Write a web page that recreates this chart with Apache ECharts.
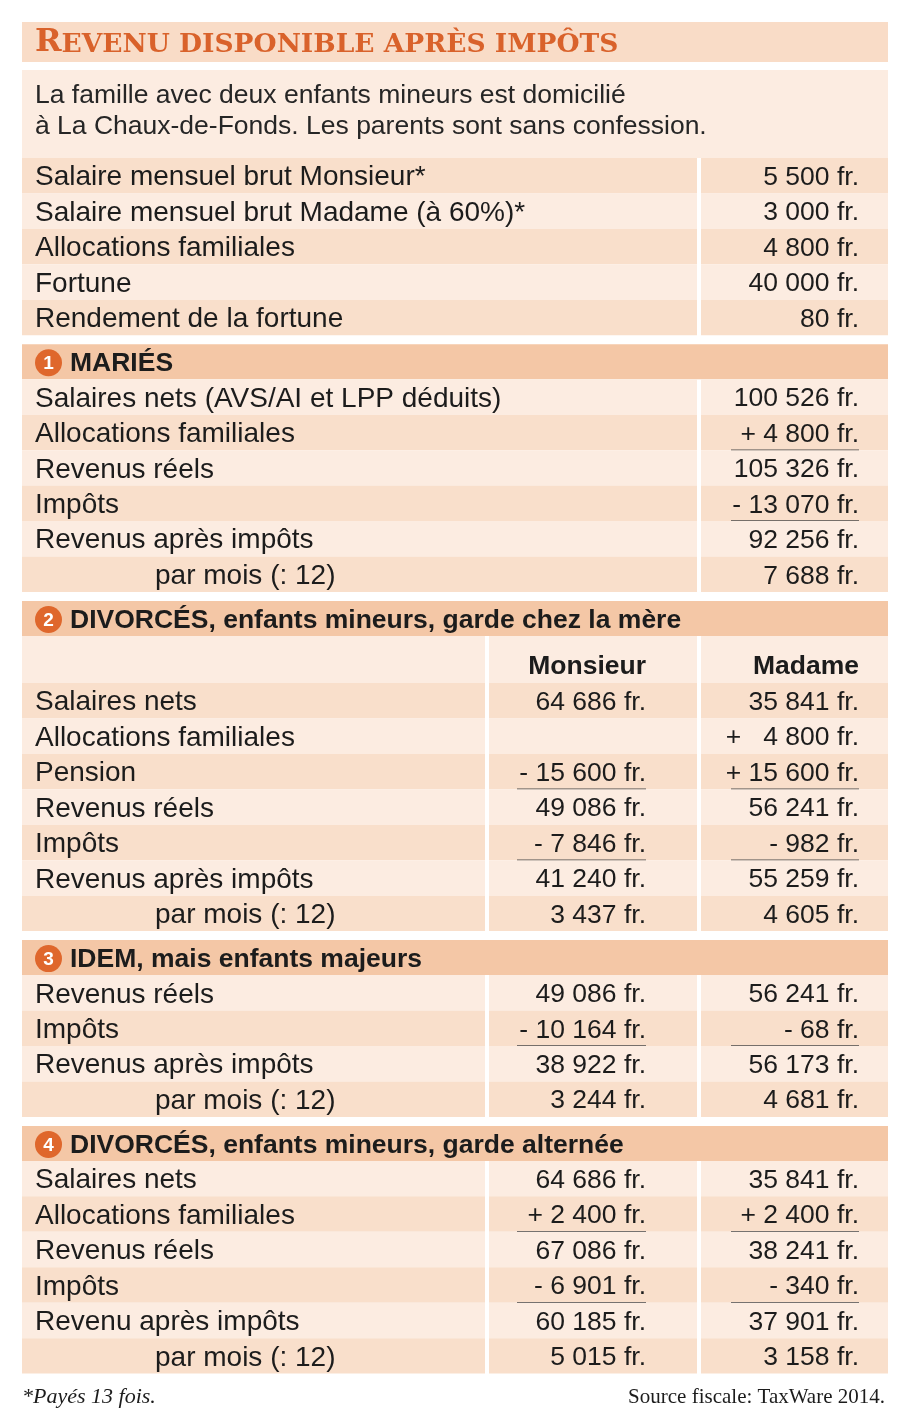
<!doctype html>
<html lang='fr'>
<head>
<meta charset='utf-8'>
<title>Revenu disponible après impôts</title>
<style>
html, body { margin: 0; padding: 0; background: #fff; }
#chart { width: 900px; height: 1427px; }
</style>
</head>
<body>
<div id="chart"></div>
<script src="https://cdn.jsdelivr.net/npm/echarts@6/dist/echarts.min.js"></script>
<script>
const titleText = 'Revenu disponible après impôts';
const intro = [
    'La famille avec deux enfants mineurs est domicilié',
    'à La Chaux-de-Fonds. Les parents sont sans confession.'
];
const baseLabels = ['Salaire mensuel brut Monsieur*', 'Salaire mensuel brut Madame (à 60%)*', 'Allocations familiales', 'Fortune', 'Rendement de la fortune'];
const baseValues = ['5 500 fr.', '3 000 fr.', '4 800 fr.', '40 000 fr.', '80 fr.'];

const sectionTitles = [
    'MARIÉS',
    'DIVORCÉS, enfants mineurs, garde chez la mère',
    'IDEM, mais enfants majeurs',
    'DIVORCÉS, enfants mineurs, garde alternée'
];
const colHeads = ['Monsieur', 'Madame'];

const mariesLabels = ['Salaires nets (AVS/AI et LPP déduits)', 'Allocations familiales', 'Revenus réels', 'Impôts', 'Revenus après impôts', 'par mois (: 12)'];
const mariesValues = ['100 526 fr.', '+ 4 800 fr.', '105 326 fr.', '- 13 070 fr.', '92 256 fr.', '7 688 fr.'];
const mariesRules = [1, 3];

const gardeLabels = ['Salaires nets', 'Allocations familiales', 'Pension', 'Revenus réels', 'Impôts', 'Revenus après impôts', 'par mois (: 12)'];
const gardeMonsieur = ['64 686 fr.', '', '- 15 600 fr.', '49 086 fr.', '- 7 846 fr.', '41 240 fr.', '3 437 fr.'];
const gardeMadame = ['35 841 fr.', '+ \u20074 800 fr.', '+ 15 600 fr.', '56 241 fr.', '- 982 fr.', '55 259 fr.', '4 605 fr.'];
const gardeRules = [2, 4];

const majeursLabels = ['Revenus réels', 'Impôts', 'Revenus après impôts', 'par mois (: 12)'];
const majeursMonsieur = ['49 086 fr.', '- 10 164 fr.', '38 922 fr.', '3 244 fr.'];
const majeursMadame = ['56 241 fr.', '- 68 fr.', '56 173 fr.', '4 681 fr.'];
const majeursRules = [1];

const alterneeLabels = ['Salaires nets', 'Allocations familiales', 'Revenus réels', 'Impôts', 'Revenu après impôts', 'par mois (: 12)'];
const alterneeMonsieur = ['64 686 fr.', '+ 2 400 fr.', '67 086 fr.', '- 6 901 fr.', '60 185 fr.', '5 015 fr.'];
const alterneeMadame = ['35 841 fr.', '+ 2 400 fr.', '38 241 fr.', '- 340 fr.', '37 901 fr.', '3 158 fr.'];
const alterneeRules = [1, 3];

const footNote = '*Payés 13 fois.';
const sourceNote = 'Source fiscale: TaxWare 2014.';

// --- mise en page ---
const SANS = '"Liberation Sans", Arial, sans-serif';
const SERIF = '"Liberation Serif", "DejaVu Serif", serif';
const TITLE_FONT = '"DejaVu Serif", serif';
const C = {
    orange: '#d9622b',
    circle: '#df672c',
    titleBand: '#f9dcc7',
    light: '#fcece1',
    dark: '#f9dfcb',
    head: '#f4c7a6',
    ink: '#1c1c1c',
    rule: '#4a4a4a'
};
const ROW_H = 35.45, HEAD_H = 35, GAP = 9, COLHEAD_H = 47;
const LABEL_SIZE = 28, VALUE_SIZE = 26.5, HEAD_SIZE = 26.5;

let rows = [];
let y = 22;
rows.push({ kind: 'title', y0: y, y1: y + 40 }); y += 48;
rows.push({ kind: 'intro', y0: y, y1: y + 88 }); y += 88;

function addRows(labels, cols, rules, split) {
    const n = labels.length;
    labels.forEach((lab, i) => {
        rows.push({
            kind: 'row', split: split, label: lab,
            cols: cols.map(c => c[i]),
            dark: (n - 1 - i) % 2 === 0,
            rule: rules.indexOf(i) >= 0,
            indent: lab.indexOf('par mois') === 0,
            y0: y, y1: y + ROW_H
        });
        y += ROW_H;
    });
}
function addHead(num) {
    y += GAP;
    rows.push({ kind: 'head', num: num + 1, text: sectionTitles[num], y0: y, y1: y + HEAD_H });
    y += HEAD_H;
}

addRows(baseLabels, [baseValues], [], false);
addHead(0);
addRows(mariesLabels, [mariesValues], mariesRules, false);
addHead(1);
rows.push({ kind: 'colhead', y0: y, y1: y + COLHEAD_H }); y += COLHEAD_H;
addRows(gardeLabels, [gardeMonsieur, gardeMadame], gardeRules, true);
addHead(2);
addRows(majeursLabels, [majeursMonsieur, majeursMadame], majeursRules, true);
addHead(3);
addRows(alterneeLabels, [alterneeMonsieur, alterneeMadame], alterneeRules, true);
rows.push({ kind: 'foot', y0: y + 8, y1: y + 36 });

const X = { left: 22, right: 888, s1a: 485, s1b: 489, s2a: 697, s2b: 701 };
// colonnes de valeurs : [bord gauche soulignement, bord droit texte]
const valCols = { mon: [517, 646], mad: [731, 859] };

function renderItem(params, api) {
    const r = rows[params.dataIndex];
    const P = (px, py) => api.coord([px, py]);
    const kids = [];
    const rect = (x0, x1, fill) => {
        const a = P(x0, r.y0), b = P(x1, r.y1);
        kids.push({ type: 'rect', shape: { x: a[0], y: a[1], width: b[0] - a[0], height: b[1] - a[1] }, style: { fill: fill } });
    };
    const text = (px, py, str, opt) => {
        const p = P(px, py);
        kids.push({ type: 'text', x: p[0], y: p[1], style: Object.assign({
            text: str, fill: C.ink, fontFamily: SANS, fontSize: LABEL_SIZE,
            align: 'left', verticalAlign: 'middle'
        }, opt || {}) });
    };
    const mid = (r.y0 + r.y1) / 2 + 2;

    if (r.kind === 'title') {
        rect(X.left, X.right, C.titleBand);
        const first = titleText.charAt(0).toUpperCase();
        const rest = titleText.slice(1).toUpperCase();
        text(35, r.y1 - 3, '{big|' + first + '}{sc|' + rest + '}', {
            verticalAlign: 'bottom',
            rich: {
                big: { fontFamily: TITLE_FONT, fontWeight: 'bold', fontSize: 32, fill: C.orange, verticalAlign: 'bottom', lineHeight: 33 },
                sc: { fontFamily: TITLE_FONT, fontWeight: 'bold', fontSize: 26.5, fill: C.orange, verticalAlign: 'bottom', lineHeight: 33 }
            }
        });
    } else if (r.kind === 'intro') {
        rect(X.left, X.right, C.light);
        text(35, r.y0 + 26, intro[0], { fill: '#262626', fontSize: 26.5 });
        text(35, r.y0 + 57, intro[1], { fill: '#262626', fontSize: 26.5 });
    } else if (r.kind === 'head') {
        rect(X.left, X.right, C.head);
        const c = P(48.5, mid - 1);
        kids.push({ type: 'circle', shape: { cx: c[0], cy: c[1], r: 13.5 }, style: { fill: C.circle } });
        text(48.5, mid, String(r.num), { fill: '#fff', fontWeight: 'bold', fontSize: 19, align: 'center' });
        text(70, mid, r.text, { fontWeight: 'bold', fontSize: HEAD_SIZE });
    } else if (r.kind === 'colhead') {
        rect(X.left, X.s1a, C.light);
        rect(X.s1b, X.s2a, C.light);
        rect(X.s2b, X.right, C.light);
        text(valCols.mon[1], r.y1 - 16, colHeads[0], { fontWeight: 'bold', fontSize: HEAD_SIZE, align: 'right' });
        text(valCols.mad[1], r.y1 - 16, colHeads[1], { fontWeight: 'bold', fontSize: HEAD_SIZE, align: 'right' });
    } else if (r.kind === 'row') {
        const fill = r.dark ? C.dark : C.light;
        const cols = r.split ? [valCols.mon, valCols.mad] : [valCols.mad];
        if (r.split) {
            rect(X.left, X.s1a, fill);
            rect(X.s1b, X.s2a, fill);
            rect(X.s2b, X.right, fill);
        } else {
            rect(X.left, X.s2a, fill);
            rect(X.s2b, X.right, fill);
        }
        text(r.indent ? 155 : 35, mid, r.label);
        r.cols.forEach((v, k) => {
            if (v) text(cols[k][1], mid, v, { align: 'right', fontSize: VALUE_SIZE });
            if (r.rule) {
                const a = P(cols[k][0], r.y1), b = P(cols[k][1], r.y1);
                kids.push({ type: 'line', shape: { x1: a[0], y1: a[1], x2: b[0], y2: b[1] }, style: { stroke: C.rule, lineWidth: 1.5 } });
            }
        });
    } else if (r.kind === 'foot') {
        text(22, mid, footNote, { fontFamily: SERIF, fontStyle: 'italic', fontSize: 22 });
        text(885, mid, sourceNote, { fontFamily: SERIF, fontSize: 21, align: 'right' });
    }
    return { type: 'group', children: kids };
}

const chart = echarts.init(document.getElementById('chart'), null, { renderer: 'canvas' });
chart.setOption({
    animation: false,
    backgroundColor: '#fff',
    grid: { left: 0, right: 0, top: 0, bottom: 0 },
    xAxis: { type: 'value', min: 0, max: 900, show: false },
    yAxis: { type: 'value', min: 0, max: 1427, inverse: true, show: false },
    series: [{
        type: 'custom',
        renderItem: renderItem,
        clip: false,
        encode: { x: 0, y: [1, 2] },
        data: rows.map(r => [0, r.y0, r.y1])
    }]
});
</script>
</body>
</html>
